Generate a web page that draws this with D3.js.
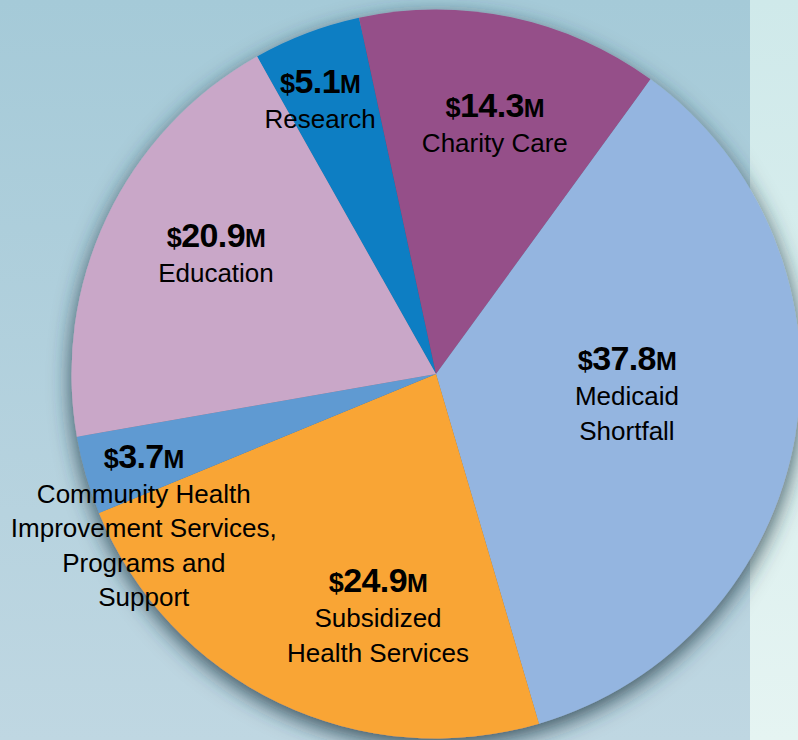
<!DOCTYPE html>
<html>
<head>
<meta charset="utf-8">
<script src="https://cdn.jsdelivr.net/npm/d3@7"></script>
<style>
  body { margin: 0; }
  svg { display: block; font-family: "Liberation Sans", Arial, sans-serif; }
</style>
</head>
<body>
<svg class="chart" width="798" height="740"></svg>
<script>
// data, clockwise from top-left
var categories = ["Research", "Charity Care", "Medicaid Shortfall", "Subsidized Health Services",
                  "Community Health Improvement Services, Programs and Support", "Education"];
var values = [5.1, 14.3, 37.8, 24.9, 3.7, 20.9];
var labelLines = [
  ["Research"],
  ["Charity Care"],
  ["Medicaid", "Shortfall"],
  ["Subsidized", "Health Services"],
  ["Community Health", "Improvement Services,", "Programs and", "Support"],
  ["Education"]
];

var width = 798,
    height = 740;

var cx = 436, cy = 374, radius = 364.5;

var colors = ["#0b7ec3", "#954f89", "#94b5e0", "#f9a535", "#5e9ad2", "#c9a7c8"];
// where the value line of each label sits: [angle in degrees, fraction of radius]
var labelPolar = [[-22.4, 0.834], [12.9, 0.723], [88.8, 0.524], [194.9, 0.619], [252.2, 0.842], [300, 0.697]];

var chart = d3.select(".chart")
    .attr("width", width)
    .attr("height", height);

var defs = chart.append("defs");

var bg = defs.append("linearGradient").attr("id", "bg")
    .attr("x1", 0).attr("y1", 0).attr("x2", 0).attr("y2", 1);
bg.append("stop").attr("offset", "0%").attr("stop-color", "#a5cad8");
bg.append("stop").attr("offset", "100%").attr("stop-color", "#bfd7e2");

var strip = defs.append("linearGradient").attr("id", "strip")
    .attr("x1", 0).attr("y1", 0).attr("x2", 0).attr("y2", 1);
strip.append("stop").attr("offset", "0%").attr("stop-color", "#cfe9ea");
strip.append("stop").attr("offset", "100%").attr("stop-color", "#e5f4f2");

var shadow = defs.append("filter").attr("id", "shadow")
    .attr("x", "-20%").attr("y", "-20%").attr("width", "140%").attr("height", "140%");
shadow.append("feDropShadow")
    .attr("dx", 0).attr("dy", 7)
    .attr("stdDeviation", 11)
    .attr("flood-color", "#1f3a44")
    .attr("flood-opacity", 0.85);

chart.append("rect").attr("width", 750).attr("height", height).attr("fill", "url(#bg)");
chart.append("rect").attr("x", 750).attr("width", width - 750).attr("height", height).attr("fill", "url(#strip)");

var pie = d3.pie()
    .sort(null)
    .startAngle(-29.4 * Math.PI / 180)
    .endAngle(-29.4 * Math.PI / 180 + 2 * Math.PI);

var arc = d3.arc()
    .innerRadius(0)
    .outerRadius(radius);

var g = chart.append("g")
    .attr("transform", "translate(" + cx + "," + cy + ")");

var slices = g.append("g").attr("filter", "url(#shadow)");

slices.selectAll("path")
    .data(pie(values))
    .enter()
    .append("path")
    .attr("d", arc)
    .attr("fill", function(d, i) { return colors[i]; });

// labels
var labels = g.selectAll(".label")
    .data(values)
    .enter()
    .append("text")
    .attr("class", "label")
    .attr("text-anchor", "middle")
    .attr("fill", "#000")
    .attr("transform", function(d, i) {
      var a = labelPolar[i][0] * Math.PI / 180,
          r = labelPolar[i][1] * radius;
      return "translate(" + (r * Math.sin(a)) + "," + (-r * Math.cos(a)) + ")";
    });

labels.each(function(d, i) {
  var t = d3.select(this);
  var v = t.append("tspan").attr("x", 0).attr("y", 0)
      .attr("font-weight", "bold").attr("letter-spacing", "-0.6");
  v.append("tspan").attr("font-size", 27).text("$");
  v.append("tspan").attr("font-size", 34).text(d3.format(".1f")(d));
  v.append("tspan").attr("font-size", 25).text("M");
  labelLines[i].forEach(function(line, j) {
    t.append("tspan")
      .attr("x", 0)
      .attr("y", 35 + j * 34.5)
      .attr("font-size", 26)
      .text(line);
  });
});
</script>
</body>
</html>
